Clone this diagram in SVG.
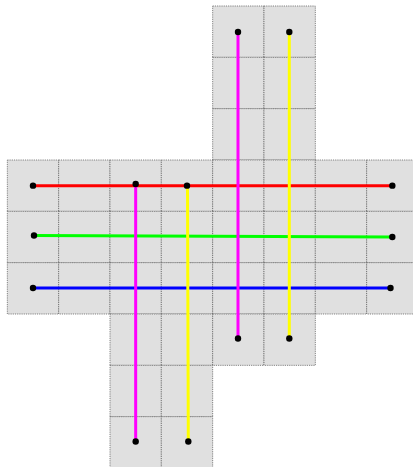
<svg xmlns="http://www.w3.org/2000/svg" width="413" height="467" viewBox="0 0 413 467">
<style>
.cell{fill:#e0e0e0;stroke:#666;stroke-width:0.8;stroke-dasharray:1.2,1}
.ln{stroke-width:3;fill:none}
.dot{fill:#000}
</style>
<rect width="413" height="467" fill="#fff"/>
<g id="grid">
<!-- top block cols 4,5 rows 0-2 -->
<rect class="cell" x="212.67" y="6" width="51.33" height="51.33"/>
<rect class="cell" x="264" y="6" width="51.33" height="51.33"/>
<rect class="cell" x="212.67" y="57.33" width="51.33" height="51.33"/>
<rect class="cell" x="264" y="57.33" width="51.33" height="51.33"/>
<rect class="cell" x="212.67" y="108.67" width="51.33" height="51.33"/>
<rect class="cell" x="264" y="108.67" width="51.33" height="51.33"/>
<!-- main block rows 3-5 cols 0-7 -->
<rect class="cell" x="7.33" y="160" width="51.33" height="51.33"/>
<rect class="cell" x="58.67" y="160" width="51.33" height="51.33"/>
<rect class="cell" x="110" y="160" width="51.33" height="51.33"/>
<rect class="cell" x="161.33" y="160" width="51.33" height="51.33"/>
<rect class="cell" x="212.67" y="160" width="51.33" height="51.33"/>
<rect class="cell" x="264" y="160" width="51.33" height="51.33"/>
<rect class="cell" x="315.33" y="160" width="51.33" height="51.33"/>
<rect class="cell" x="366.67" y="160" width="51.33" height="51.33"/>
<rect class="cell" x="7.33" y="211.33" width="51.33" height="51.33"/>
<rect class="cell" x="58.67" y="211.33" width="51.33" height="51.33"/>
<rect class="cell" x="110" y="211.33" width="51.33" height="51.33"/>
<rect class="cell" x="161.33" y="211.33" width="51.33" height="51.33"/>
<rect class="cell" x="212.67" y="211.33" width="51.33" height="51.33"/>
<rect class="cell" x="264" y="211.33" width="51.33" height="51.33"/>
<rect class="cell" x="315.33" y="211.33" width="51.33" height="51.33"/>
<rect class="cell" x="366.67" y="211.33" width="51.33" height="51.33"/>
<rect class="cell" x="7.33" y="262.67" width="51.33" height="51.33"/>
<rect class="cell" x="58.67" y="262.67" width="51.33" height="51.33"/>
<rect class="cell" x="110" y="262.67" width="51.33" height="51.33"/>
<rect class="cell" x="161.33" y="262.67" width="51.33" height="51.33"/>
<rect class="cell" x="212.67" y="262.67" width="51.33" height="51.33"/>
<rect class="cell" x="264" y="262.67" width="51.33" height="51.33"/>
<rect class="cell" x="315.33" y="262.67" width="51.33" height="51.33"/>
<rect class="cell" x="366.67" y="262.67" width="51.33" height="51.33"/>
<!-- row 6 cols 2-5 -->
<rect class="cell" x="110" y="314" width="51.33" height="51.33"/>
<rect class="cell" x="161.33" y="314" width="51.33" height="51.33"/>
<rect class="cell" x="212.67" y="314" width="51.33" height="51.33"/>
<rect class="cell" x="264" y="314" width="51.33" height="51.33"/>
<!-- bottom block cols 2,3 rows 7-8 -->
<rect class="cell" x="110" y="365.33" width="51.33" height="51.33"/>
<rect class="cell" x="161.33" y="365.33" width="51.33" height="51.33"/>
<rect class="cell" x="110" y="416.67" width="51.33" height="51.33"/>
<rect class="cell" x="161.33" y="416.67" width="51.33" height="51.33"/>
</g>
<g id="connectors">
<line class="ln" stroke="#ff0000" x1="33" y1="185.67" x2="392.33" y2="185.67"/>
<line class="ln" stroke="#00ff00" x1="33" y1="235.5" x2="392.33" y2="237"/>
<line class="ln" stroke="#0000ff" x1="33" y1="288" x2="392.33" y2="288"/>
<line class="ln" stroke="#ff00ff" x1="135.67" y1="184" x2="135.67" y2="441.5"/>
<line class="ln" stroke="#ffff00" x1="187.5" y1="185.67" x2="188.3" y2="441.5"/>
<line class="ln" stroke="#ff00ff" x1="238" y1="32" x2="238" y2="338.5"/>
<line class="ln" stroke="#ffff00" x1="289.3" y1="32" x2="289.3" y2="338.5"/>
</g>
<g id="nodes">
<g id="red-a"><circle class="dot" cx="33" cy="185.67" r="3.2"/></g>
<g id="red-b"><circle class="dot" cx="392.33" cy="185.67" r="3.2"/></g>
<g id="green-a"><circle class="dot" cx="34" cy="235.5" r="3.2"/></g>
<g id="green-b"><circle class="dot" cx="392.33" cy="237" r="3.2"/></g>
<g id="blue-a"><circle class="dot" cx="33" cy="288" r="3.2"/></g>
<g id="blue-b"><circle class="dot" cx="390.5" cy="288" r="3.2"/></g>
<g id="magenta1-a"><circle class="dot" cx="135.67" cy="184" r="3.2"/></g>
<g id="magenta1-b"><circle class="dot" cx="135.67" cy="441.5" r="3.2"/></g>
<g id="yellow1-a"><circle class="dot" cx="187" cy="185.67" r="3.2"/></g>
<g id="yellow1-b"><circle class="dot" cx="188.3" cy="441.5" r="3.2"/></g>
<g id="magenta2-a"><circle class="dot" cx="238" cy="32" r="3.2"/></g>
<g id="magenta2-b"><circle class="dot" cx="238" cy="338.5" r="3.2"/></g>
<g id="yellow2-a"><circle class="dot" cx="289.3" cy="32" r="3.2"/></g>
<g id="yellow2-b"><circle class="dot" cx="289.3" cy="338.5" r="3.2"/></g>
</g>
</svg>
